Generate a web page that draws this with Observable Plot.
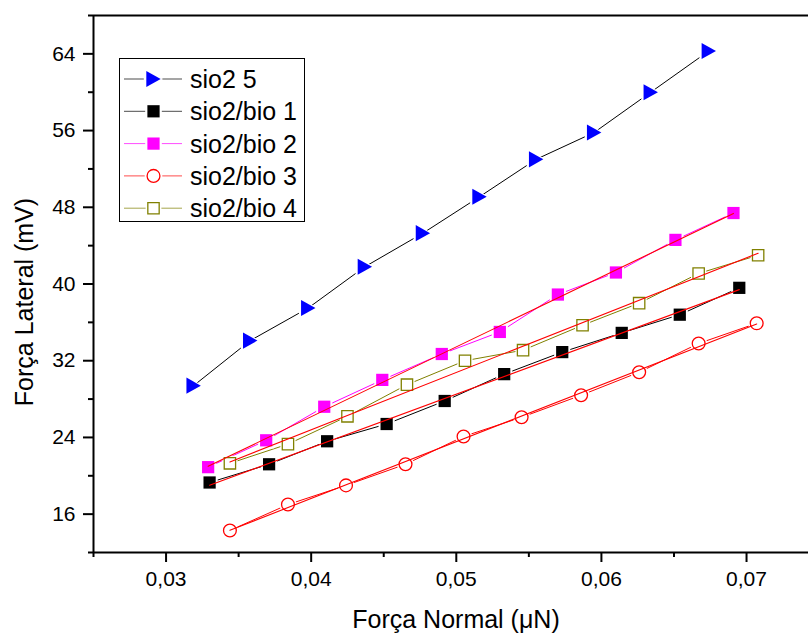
<!DOCTYPE html>
<html>
<head>
<meta charset="utf-8">
<script src="https://cdn.jsdelivr.net/npm/d3@7"></script>
<script src="https://cdn.jsdelivr.net/npm/@observablehq/plot@0.6"></script>
<style>
  html, body { margin: 0; padding: 0; background: white; }
  #chart { width: 808px; height: 633px; }
</style>
</head>
<body>
<div id="chart"></div>
<script>
// ---- data ----
const seriesNames = ["sio2 5", "sio2/bio 1", "sio2/bio 2", "sio2/bio 3", "sio2/bio 4"];
const sio2_5_x = [0.0319, 0.0358, 0.0398, 0.0437, 0.0477, 0.0516, 0.0555, 0.0595, 0.0634, 0.0674];
const sio2_5_y = [29.4, 34.1, 37.5, 41.8, 45.3, 49.1, 53.0, 55.8, 60.0, 64.3];
const bio1_x = [0.0330, 0.0371, 0.0411, 0.0452, 0.0492, 0.0533, 0.0573, 0.0614, 0.0654, 0.0695];
const bio1_y = [19.3, 21.2, 23.6, 25.4, 27.8, 30.6, 32.9, 34.9, 36.8, 39.6];
const bio2_x = [0.0329, 0.0369, 0.0409, 0.0449, 0.0490, 0.0530, 0.0570, 0.0610, 0.0651, 0.0691];
const bio2_y = [20.9, 23.7, 27.2, 30.0, 32.7, 35.0, 38.9, 41.2, 44.6, 47.4];
const bio3_x = [0.0344, 0.0384, 0.0424, 0.0465, 0.0505, 0.0545, 0.0586, 0.0626, 0.0667, 0.0707];
const bio3_y = [14.3, 17.0, 19.0, 21.2, 24.1, 26.1, 28.4, 30.8, 33.8, 35.9];
const bio4_x = [0.0344, 0.0384, 0.0425, 0.0466, 0.0506, 0.0546, 0.0587, 0.0626, 0.0667, 0.0708];
const bio4_y = [21.3, 23.3, 26.2, 29.5, 32.0, 33.1, 35.7, 38.0, 41.1, 43.0];

const xMajorTicks = [0.03, 0.04, 0.05, 0.06, 0.07];
const xMinorTicks = [0.025, 0.035, 0.045, 0.055, 0.065];
const yMajorTicks = [16, 24, 32, 40, 48, 56, 64];
const yMinorTicks = [12, 20, 28, 36, 44, 52, 60, 68];
const xDomain = [0.025, 0.07427];
const yDomain = [12, 68];
const xTitle = "Força Normal (μN)";
const yTitle = "Força Lateral (mV)";

// ---- styles ----
const triangleRight = {
  draw(context, size) {
    const r = Math.sqrt(size / Math.PI);
    context.moveTo(r, 0);
    context.lineTo(-r, -1.12 * r);
    context.lineTo(-r, 1.12 * r);
    context.closePath();
  }
};
const styles = [
  {line: "#000000", fill: "#0000ff", stroke: "none", symbol: triangleRight, r: 7.2, fit: false},
  {line: "#000000", fill: "#000000", stroke: "none", symbol: "square", r: 6.9, fit: true},
  {line: "#ff00ff", fill: "#ff00ff", stroke: "none", symbol: "square", r: 6.9, fit: true},
  {line: "#ff0000", fill: "white", stroke: "#ff0000", symbol: "circle", r: 6.4, fit: true},
  {line: "#808000", fill: "white", stroke: "#808000", symbol: "square", r: 6.4, fit: true}
];

const xs = [sio2_5_x, bio1_x, bio2_x, bio3_x, bio4_x];
const ys = [sio2_5_y, bio1_y, bio2_y, bio3_y, bio4_y];
const tables = seriesNames.map((name, i) => xs[i].map((x, j) => ({series: name, x, y: ys[i][j]})));

const commaFmt = d => d3.format(".2f")(d).replace(".", ",");

const marks = [];
// series lines
tables.forEach((t, i) => marks.push(Plot.line(t, {x: "x", y: "y", stroke: styles[i].line, strokeWidth: 1})));
// white halos to open small gaps around markers
tables.forEach((t, i) => marks.push(Plot.dot(t, {x: "x", y: "y", symbol: styles[i].symbol, r: styles[i].r + 2.2, fill: "white", stroke: "none"})));
// markers
tables.forEach((t, i) => marks.push(Plot.dot(t, {x: "x", y: "y", symbol: styles[i].symbol, r: styles[i].r, fill: styles[i].fill, stroke: styles[i].stroke, strokeWidth: 1.3})));
// red linear fits
tables.forEach((t, i) => { if (styles[i].fit) marks.push(Plot.linearRegressionY(t, {x: "x", y: "y", stroke: "#ff0000", strokeWidth: 1.1, ci: 0})); });
// axes frame lines
marks.push(Plot.ruleY([yDomain[0]], {stroke: "black", strokeWidth: 2}));
marks.push(Plot.ruleY([yDomain[1]], {stroke: "black", strokeWidth: 2}));
marks.push(Plot.ruleX([xDomain[0]], {stroke: "black", strokeWidth: 2}));
// axes
marks.push(Plot.axisX({ticks: xMajorTicks, tickSize: 10, tickPadding: 9, tickFormat: commaFmt, fontSize: 21, strokeWidth: 2, label: null}));
marks.push(Plot.axisX({ticks: xMinorTicks, tickSize: 5, tickFormat: () => "", strokeWidth: 2, label: null}));
marks.push(Plot.axisY({ticks: yMajorTicks, tickSize: 10, tickPadding: 8, tickFormat: d => String(d), fontSize: 21, strokeWidth: 2, label: null}));
marks.push(Plot.axisY({ticks: yMinorTicks, tickSize: 5, tickFormat: () => "", strokeWidth: 2, label: null}));

const svg = Plot.plot({
  width: 808,
  height: 633,
  marginLeft: 93,
  marginRight: 0,
  marginTop: 15,
  marginBottom: 81,
  x: {domain: xDomain},
  y: {domain: yDomain},
  style: {fontFamily: "'Liberation Sans', Arial, sans-serif", background: "white", color: "black"},
  marks
});
document.getElementById("chart").appendChild(svg);

// axis titles
const sel = d3.select(svg);
sel.append("text")
  .attr("x", 456).attr("y", 628)
  .attr("text-anchor", "middle")
  .style("font-size", "25px").style("fill", "black")
  .text(xTitle);
sel.append("text")
  .attr("transform", "translate(33,302) rotate(-90)")
  .attr("text-anchor", "middle")
  .style("font-size", "25px").style("fill", "black")
  .text(yTitle);

// legend
const symbolFor = s => typeof s === "string" ? (s === "square" ? d3.symbolSquare : d3.symbolCircle) : s;
const lg = sel.append("g").attr("text-anchor", "start");
lg.append("rect").attr("x", 119.5).attr("y", 58.5).attr("width", 185).attr("height", 163)
  .attr("fill", "white").attr("stroke", "black").attr("stroke-width", 1);
seriesNames.forEach((name, i) => {
  const cy = 79 + i * 32.3;
  const st = styles[i];
  lg.append("line").attr("x1", 124).attr("x2", 182).attr("y1", cy).attr("y2", cy)
    .attr("stroke", st.line).attr("stroke-width", 1).attr("opacity", 0.7);
  lg.append("path")
    .attr("transform", `translate(153.5,${cy})`)
    .attr("d", d3.symbol(symbolFor(st.symbol), Math.PI * (st.r + 2.5) ** 2)())
    .attr("fill", "white");
  lg.append("path")
    .attr("transform", `translate(153.5,${cy})`)
    .attr("d", d3.symbol(symbolFor(st.symbol), Math.PI * st.r ** 2)())
    .attr("fill", st.fill).attr("stroke", st.stroke).attr("stroke-width", 1.3);
  lg.append("text").attr("x", 190).attr("y", cy + 9)
    .attr("text-anchor", "start")
    .style("font-size", "25px").style("fill", "black")
    .text(name);
});
</script>
</body>
</html>
